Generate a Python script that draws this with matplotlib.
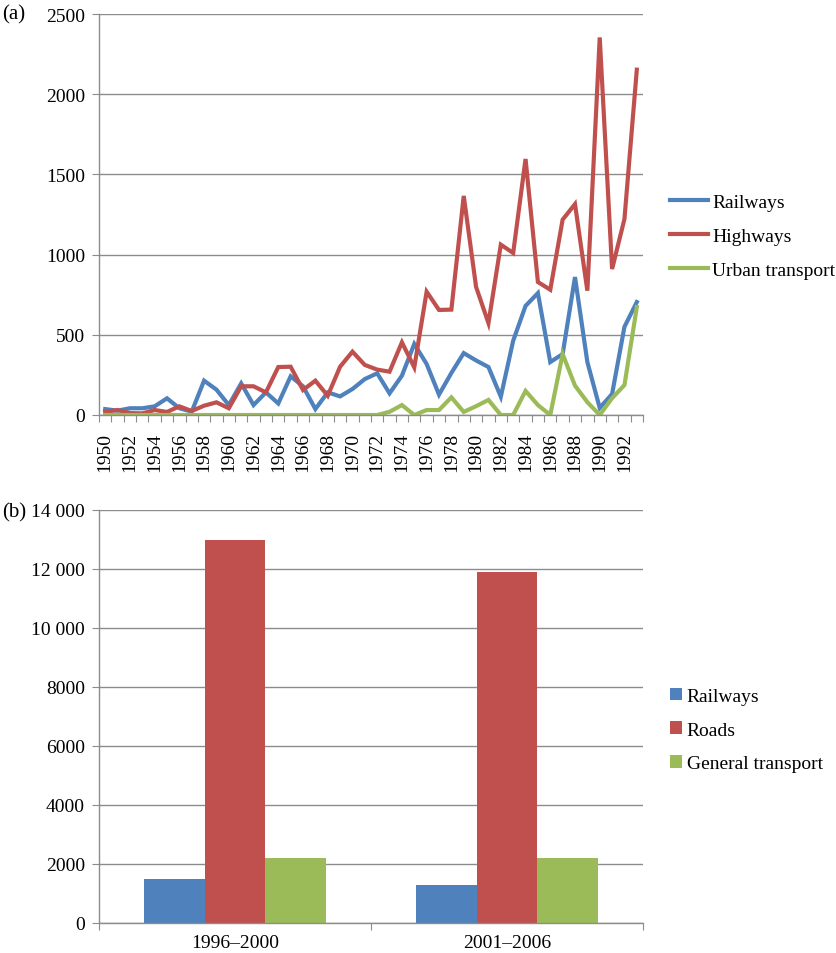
import numpy as np
import matplotlib.pyplot as plt
from matplotlib.ticker import FuncFormatter

plt.rcParams['font.family'] = ['Liberation Serif', 'DejaVu Serif']

# (a) annual investment, 1950-1993
years = list(range(1950, 1994))
railways = [37, 27, 42, 42, 54, 104, 42, 21, 214, 158, 62, 197, 62, 141, 72, 241,
            179, 37, 141, 116, 162, 224, 260, 135, 245, 443, 318, 127, 262, 386,
            340, 299, 114, 463, 680, 760, 330, 380, 860, 330, 44, 131, 550, 704]
highways = [19, 31, 12, 10, 31, 19, 54, 25, 58, 79, 42, 179, 179, 141, 299, 301,
            156, 214, 120, 301, 395, 312, 283, 270, 453, 297, 769, 655, 657, 1366,
            798, 573, 1062, 1010, 1596, 829, 781, 1218, 1315, 775, 2354, 910, 1222, 2153]
urban = [0, 0, 0, 0, 0, 0, 0, 0, 0, 0, 0, 0, 0, 0, 0, 0,
         0, 0, 0, 0, 0, 0, 0, 20, 62, 0, 31, 31, 110, 19,
         55, 94, 0, 0, 150, 62, 0, 380, 183, 80, 0, 105, 187, 673]

# (b) totals by plan period
periods = ['1996\u20132000', '2001\u20132006']
bar_railways = [1500, 1300]
bar_roads = [13000, 11900]
bar_general = [2200, 2200]

blue, red, green = '#4F81BD', '#C0504D', '#9BBB59'
grid_c = '#8C8C8C'
fs = 14

fig = plt.figure(figsize=(8.37, 9.54), dpi=100)

# ---- top panel ----
ax1 = fig.add_axes([99 / 837, 1 - 416 / 954, 544 / 837, 401 / 954])
x = np.arange(len(years))
ax1.plot(x, railways, color=blue, lw=3, label='Railways', solid_joinstyle='miter')
ax1.plot(x, highways, color=red, lw=3, label='Highways', solid_joinstyle='miter')
ax1.plot(x, urban, color=green, lw=3, label='Urban transport', solid_joinstyle='miter')
ax1.set_xlim(-0.5, len(years) - 0.5)
ax1.set_ylim(0, 2500)
ax1.set_yticks(range(0, 2501, 500))
ax1.set_xticks(np.arange(-0.5, len(years), 1))
ax1.set_xticklabels([])
ax1.set_xticks(x[::2], minor=True)
ax1.set_xticklabels([str(y) for y in years[::2]], minor=True, rotation=90)
ax1.tick_params(axis='x', which='major', length=5, color=grid_c, direction='out')
ax1.tick_params(axis='x', which='minor', length=0, pad=12, labelsize=fs)

# ---- bottom panel ----
ax2 = fig.add_axes([99 / 837, 1 - 924 / 954, 544 / 837, 413 / 954])
xb = np.arange(len(periods))
w = 0.2225
ax2.bar(xb - w, bar_railways, w, color=blue, label='Railways')
ax2.bar(xb, bar_roads, w, color=red, label='Roads')
ax2.bar(xb + w, bar_general, w, color=green, label='General transport')
ax2.set_xlim(-0.5, 1.5)
ax2.set_ylim(0, 14000)
ax2.set_yticks(range(0, 14001, 2000))
ax2.yaxis.set_major_formatter(FuncFormatter(
    lambda v, p: f'{int(v):,}'.replace(',', ' ') if v >= 10000 else f'{int(v)}'))
ax2.set_xticks([-0.5, 0.5, 1.5])
ax2.set_xticklabels([])
ax2.set_xticks(xb, minor=True)
ax2.set_xticklabels(periods, minor=True)
ax2.tick_params(axis='x', which='major', length=5, color=grid_c, direction='out')
ax2.tick_params(axis='x', which='minor', length=0, pad=8, labelsize=fs)

for ax in (ax1, ax2):
    ax.set_axisbelow(True)
    ax.grid(axis='y', color=grid_c, lw=1)
    for s in ('top', 'right'):
        ax.spines[s].set_visible(False)
    for s in ('left', 'bottom'):
        ax.spines[s].set_color(grid_c)
        ax.spines[s].set_linewidth(1)
    ax.tick_params(axis='y', length=5, color=grid_c, pad=5, labelsize=fs)

ax1.legend(loc='center left', bbox_to_anchor=(660 / 837, 1 - 237 / 954),
           bbox_transform=fig.transFigure, frameon=False, fontsize=fs,
           handlelength=1.95, handletextpad=0.25, labelspacing=0.85, borderpad=0)
ax2.legend(loc='center left', bbox_to_anchor=(660 / 837, 1 - 731 / 954),
           bbox_transform=fig.transFigure, frameon=False, fontsize=fs,
           handlelength=0.62, handleheight=0.62, handletextpad=0.25,
           labelspacing=0.85, borderpad=0)

fig.text(2 / 837, 1 - 15 / 954, '(a)', fontsize=fs + 1, va='center', ha='left')
fig.text(2 / 837, 1 - 513 / 954, '(b)', fontsize=fs + 1, va='center', ha='left')

fig.savefig('out.png', dpi=100)
